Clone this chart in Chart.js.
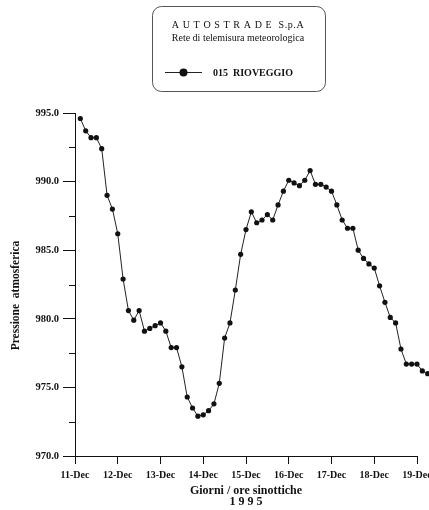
<!DOCTYPE html>
<html>
<head>
<meta charset="utf-8">
<script src="https://cdn.jsdelivr.net/npm/chart.js@4"></script>
<style>
  html, body { margin: 0; padding: 0; background: #fff; overflow: hidden; }
  canvas { display: block; }
</style>
</head>
<body>
<canvas id="chart" width="429" height="510"></canvas>
<script>
// Station and header texts
const company = 'A U T O S T R A D E  S.p.A';
const network = 'Rete di telemisura meteorologica';
const station = '015  RIOVEGGIO';

// Day labels on the time axis (one tick every 24 h from 11-Dec 00:00)
const days = ['11-Dec', '12-Dec', '13-Dec', '14-Dec', '15-Dec', '16-Dec', '17-Dec', '18-Dec', '19-Dec'];

// Synoptic readings every 3 hours, starting at 11-Dec 03:00 (hPa)
const stepHours = 3;
const pressure = [
  994.6, 993.7, 993.2, 993.2, 992.4, 989.0, 988.0, 986.2,
  982.9, 980.6, 979.9, 980.6, 979.1, 979.3, 979.5, 979.7,
  979.1, 977.9, 977.9, 976.5, 974.3, 973.5, 972.9, 973.0,
  973.3, 973.8, 975.3, 978.6, 979.7, 982.1, 984.7, 986.5,
  987.8, 987.0, 987.2, 987.6, 987.2, 988.3, 989.3, 990.1,
  989.9, 989.7, 990.1, 990.8, 989.8, 989.8, 989.6, 989.3,
  988.3, 987.2, 986.6, 986.6, 985.0, 984.4, 984.0, 983.7,
  982.4, 981.2, 980.1, 979.7, 977.8, 976.7, 976.7, 976.7,
  976.2, 976.0
];

// Pressure axis range and tick spacing
const yMin = 970, yMax = 995, yStep = 5, yMinorStep = 2.5;

const points = pressure.map((p, i) => ({ x: (i + 1) * stepHours, y: p }));

const ink = '#111';
const serif = "'Liberation Serif', 'DejaVu Serif', serif";

// The series runs on past the last labelled day: let its markers draw
// up to the canvas edge while the axes keep their own extent.
const runOn = {
  id: 'runOn',
  beforeDatasetsDraw(chart) {
    this._right = chart.chartArea.right;
    chart.chartArea.right = chart.width + 10;
  },
  afterDatasetsDraw(chart) {
    chart.chartArea.right = this._right;
  }
};

// Short minor ticks on the pressure axis, between the labelled ones
const minorTicks = {
  id: 'minorTicks',
  afterDraw(chart) {
    const y = chart.scales.y;
    const left = chart.chartArea.left;
    const ctx = chart.ctx;
    ctx.save();
    ctx.strokeStyle = ink;
    ctx.lineWidth = 1;
    for (let v = yMin + yMinorStep; v < yMax; v += yStep) {
      const py = Math.round(y.getPixelForValue(v)) + 0.5;
      ctx.beginPath();
      ctx.moveTo(left - 6, py);
      ctx.lineTo(left, py);
      ctx.stroke();
    }
    ctx.restore();
  }
};

// Rotated title of the pressure axis
const yTitle = {
  id: 'yTitle',
  afterDraw(chart) {
    const ctx = chart.ctx;
    const a = chart.chartArea;
    ctx.save();
    ctx.translate(16, (a.top + a.bottom) / 2 + 11);
    ctx.rotate(-Math.PI / 2);
    ctx.font = 'bold 11.5px ' + serif;
    ctx.fillStyle = ink;
    ctx.textAlign = 'center';
    ctx.textBaseline = 'middle';
    ctx.fillText('Pressione  atmosferica', 0, 0);
    ctx.restore();
  }
};

// Framed header with the network name and the series key
const headerBox = {
  id: 'headerBox',
  afterDraw(chart) {
    const ctx = chart.ctx;
    const ds = chart.data.datasets[0];
    ctx.save();
    ctx.strokeStyle = '#555';
    ctx.lineWidth = 1;
    ctx.beginPath();
    ctx.roundRect(152.5, 6.5, 173, 85, 9);
    ctx.stroke();

    ctx.fillStyle = ink;
    ctx.textAlign = 'center';
    ctx.textBaseline = 'middle';
    ctx.font = '10px ' + serif;
    ctx.letterSpacing = '0.6px';
    ctx.fillText(company, 238, 25);
    ctx.letterSpacing = '0px';
    ctx.font = '10px ' + serif;
    ctx.fillText(network, 238, 38);

    // series key: line with a marker, then the station name
    ctx.strokeStyle = ds.borderColor;
    ctx.lineWidth = 1;
    ctx.beginPath();
    ctx.moveTo(165, 72.5);
    ctx.lineTo(202, 72.5);
    ctx.stroke();
    ctx.fillStyle = ds.pointBackgroundColor;
    ctx.beginPath();
    ctx.arc(183.5, 72.5, 4, 0, Math.PI * 2);
    ctx.fill();

    ctx.fillStyle = ink;
    ctx.textAlign = 'left';
    ctx.font = 'bold 10px ' + serif;
    ctx.fillText(station, 213, 73);
    ctx.restore();
  }
};

new Chart(document.getElementById('chart'), {
  type: 'line',
  data: {
    datasets: [{
      label: station,
      data: points,
      borderColor: '#222',
      borderWidth: 1,
      pointRadius: 2.6,
      pointBorderWidth: 0,
      pointBackgroundColor: '#111',
      pointBorderColor: '#111',
      tension: 0,
      clip: false
    }]
  },
  options: {
    responsive: false,
    animation: false,
    devicePixelRatio: 1,
    layout: { padding: { top: 113, right: 12, bottom: 0, left: 0 } },
    plugins: {
      legend: { display: false },
      tooltip: { enabled: false }
    },
    scales: {
      x: {
        type: 'linear',
        afterDataLimits(scale) { scale.min = 0; scale.max = (days.length - 1) * 24; },
        afterFit(scale) { scale.height = 54; scale.paddingLeft = 0; scale.paddingRight = 0; },
        border: { display: true, color: ink, width: 1 },
        grid: { display: true, drawOnChartArea: false, drawTicks: true, tickLength: 8, color: ink },
        ticks: {
          stepSize: 24,
          autoSkip: false,
          maxRotation: 0,
          padding: 5,
          color: ink,
          font: { family: serif, size: 10, weight: 'bold' },
          callback: (v) => days[Math.round(v / 24)]
        },
        title: {
          display: true,
          text: ['Giorni / ore sinottiche', '1 9 9 5'],
          color: ink,
          font: { family: serif, size: 12, weight: 'bold', lineHeight: '11px' },
          padding: { top: 0, bottom: 3 }
        }
      },
      y: {
        type: 'linear',
        min: yMin,
        max: yMax,
        afterFit(scale) { scale.width = 75; scale.paddingTop = 0; scale.paddingBottom = 0; },
        border: { display: true, color: ink, width: 1 },
        grid: { display: true, drawOnChartArea: false, drawTicks: true, tickLength: 12, color: ink },
        ticks: {
          stepSize: yStep,
          padding: 4,
          color: ink,
          font: { family: serif, size: 10.5, weight: 'bold' },
          callback: (v) => v.toFixed(1)
        }
      }
    }
  },
  plugins: [runOn, minorTicks, yTitle, headerBox]
});
</script>
</body>
</html>
